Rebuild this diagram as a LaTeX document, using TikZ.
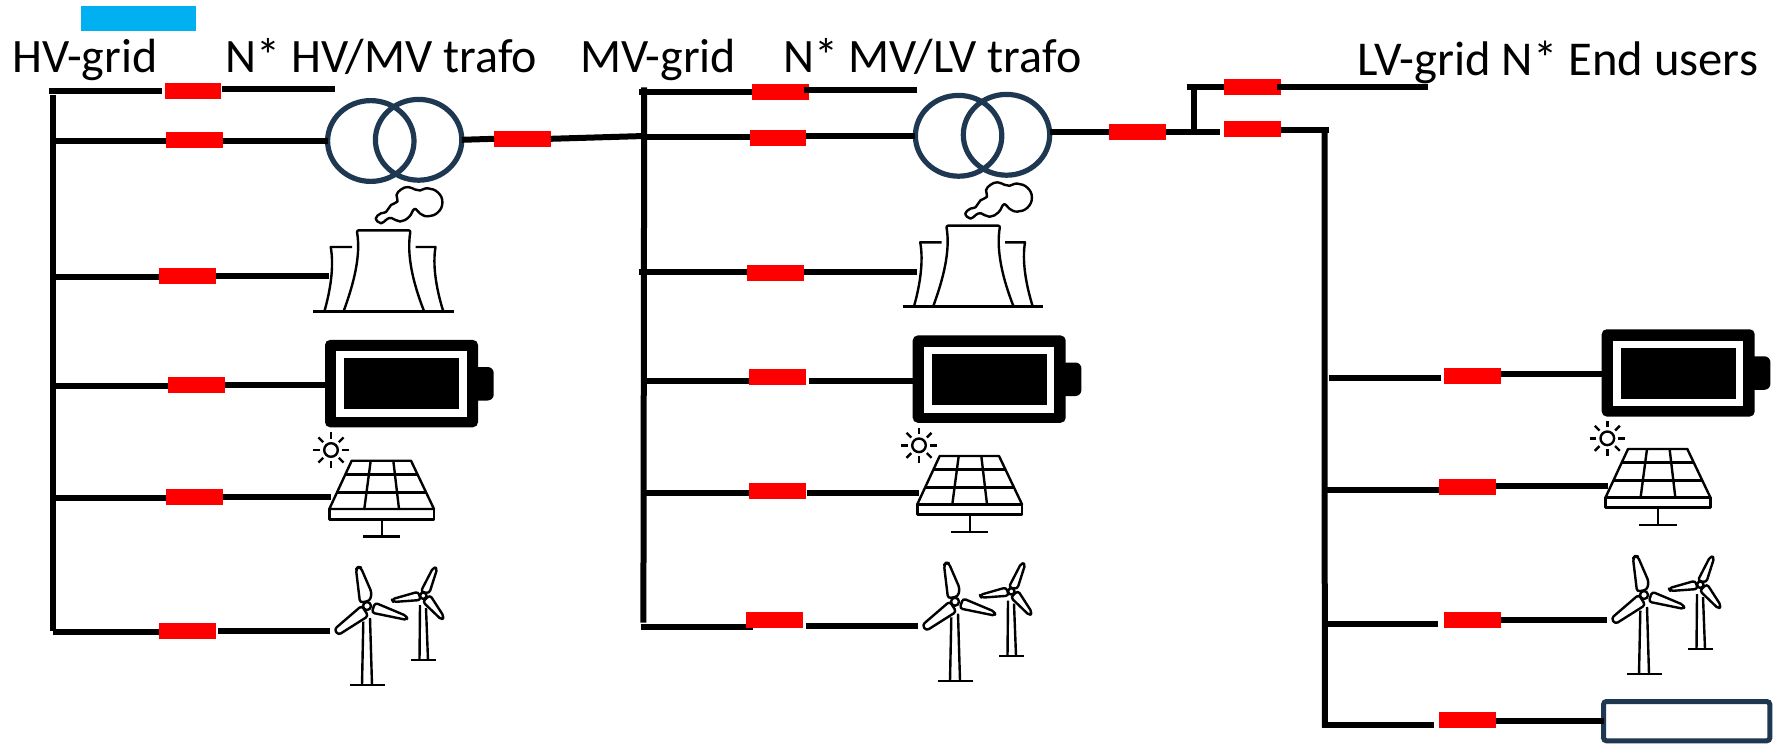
\documentclass[tikz,border=0pt]{standalone}
\usepackage{fontspec}
\setmainfont{Carlito}
\usetikzlibrary{shapes.geometric,backgrounds,calc}
\definecolor{ringblue}{HTML}{1F3852}
\definecolor{skyfill}{HTML}{00B0F0}
\tikzset{
  wire/.style={line width=3pt,line cap=butt,black},
  swbox/.style={fill=red,draw=none,minimum width=28.4pt,minimum height=8pt,inner sep=0pt,outer sep=0pt},
  ringnode/.style={draw=ringblue,line width=2.6pt,ellipse,minimum width=43.2pt,minimum height=40.4pt,inner sep=0pt,outer sep=0pt},
  label/.style={anchor=base west,inner sep=0pt,outer sep=0pt,font=\fontsize{24}{29}\selectfont},
  icon/.style={line width=1.2pt,line join=round,black},
  battbody/.style={fill=black,draw=none,rounded corners=2.5pt,minimum width=76.5pt,minimum height=43.65pt,inner sep=0pt,outer sep=0pt},
  evbox/.style={draw=ringblue,line width=2.5pt,rounded corners=1.5pt,minimum width=83.15pt,minimum height=19.65pt,inner sep=0pt,outer sep=0pt},
  cooltower/.pic={
    \draw[icon] (313,311.3) -- (453.9,311.3);
    \draw[icon,rounded corners=1pt] (343.7,311) .. controls (354,283) and (361,255) .. (356.7,230.3) -- (410.6,230.3) .. controls (406.5,255) and (413,283) .. (424,311);
    \draw[icon] (324.5,311) .. controls (331,288) and (334,265) .. (330.7,247) -- (352,247);
    \draw[icon] (415.6,247) -- (435.5,247) .. controls (432.5,265) and (436,288) .. (443.2,311);
    \draw[icon] plot[smooth cycle,tension=0.75] coordinates {(427.9,188.3) (438,192.5) (442.4,202.3) (438,212.3) (428,216.3) (420,213.5) (414.5,209) (409,217) (400,221.5) (391.5,218) (386.5,219.5) (381,223.3) (375.8,218.3) (381,213.3) (386,212) (391,205) (397.5,201.5) (396.5,195) (401,189.5) (408,187) (415,189.5) (420,190.5)};
  },
  battpic/.pic={
    \fill[black,rounded corners=3pt] (470,367) rectangle (493.7,400.5);
    \node[battbody] (body) at (401.5,383.6) {};
    \fill[white] (336.3,351.3) rectangle (466.7,417);
    \fill[black] (344,358.3) rectangle (459.3,409.3);
  },
  solarpic/.pic={
    \draw[icon] (331,450) circle[radius=6.8];
    \foreach \a in {0,45,...,315}{\draw[icon] ($(331,450)$) ++(\a:11) -- ++(\a:6.7);}
    \draw[icon] (351.7,460.7) -- (411,460.7) -- (434,509) -- (329.3,509) -- cycle;
    \draw[icon] (329.3,509) rectangle (434,519.3);
    \draw[icon] (345.4,474.3) -- (417.5,474.3);
    \draw[icon] (337,492.3) -- (426,492.3);
    \draw[icon] (370.7,460.7) -- (364.3,509);
    \draw[icon] (393.3,460.7) -- (399,509);
    \draw[icon] (381.7,519.3) -- (381.7,536.4);
    \draw[icon] (363,536.4) -- (400.3,536.4);
  },
  windpic/.pic={
    \draw[icon] (363.3,621.7) -- (362,685);
    \draw[icon] (370,618) -- (372,685);
    \draw[icon] (350.3,685) -- (384.7,685);
    \draw[icon,rounded corners=1.5pt] (356,569.3) -- (358,567) -- (360.7,567.3) -- (371.7,592.7) -- (370,600.7) -- (360,602.7) -- cycle;
    \draw[icon,rounded corners=1.5pt] (375,602.7) -- (406.7,616) -- (407.3,620) -- (371.7,612.7) -- cycle;
    \draw[icon,rounded corners=1.5pt] (361.7,605.7) -- (334.3,629.3) -- (338.3,635) -- (368.3,616) -- cycle;
    \draw[icon,fill=white] (367,606) circle[radius=4];
    \draw[icon] (420,605) -- (419.5,660);
    \draw[icon] (426,608) -- (428,660);
    \draw[icon] (411,660) -- (435.7,660);
    \draw[icon,rounded corners=1.5pt] (420.7,591.7) -- (433.3,567.3) -- (437.3,568.3) -- (429.3,593.3) -- cycle;
    \draw[icon,rounded corners=1.5pt] (391.7,599.3) -- (418.3,591.7) -- (420.7,600) -- (393.3,602) -- cycle;
    \draw[icon,rounded corners=1.5pt] (430,595) -- (444,616.7) -- (441.7,620) -- (422.7,601.7) -- cycle;
    \draw[icon,fill=white] (423.3,595.7) circle[radius=3.2];
  }
}
% name, box centre, left free end, left gap, right end, right gap (all in px)
\newcommand{\branch}[6]{%
  \node[swbox] (#1) at (#2) {};
  \coordinate (#1L) at (#3);
  \coordinate (#1R) at (#5);
  \begin{scope}[on background layer]
    \draw[wire] (#1L) -- ([xshift=(#4)*0.5pt]#1.west |- #1L);
  \end{scope}
  \draw[wire] ([xshift=(#6)*0.5pt]#1.east |- #1R) -- (#1R);
}
\begin{document}
\begin{tikzpicture}[x=0.5pt,y=-0.5pt]
\useasboundingbox (0,0) rectangle (1781,744);
\begin{scope}[on background layer]
  \fill[white] (0,0) rectangle (1781,744);
\end{scope}

% header
\node[fill=skyfill,draw=none,minimum width=57.45pt,minimum height=12.5pt,inner sep=0pt,outer sep=0pt] (legend) at (138.55,18.5) {};
\node[label] (thv) at (12.5,72.7) {HV-grid};
\node[label] (thvt) at (225.5,72.7) {N* HV/MV trafo};
\node[label] (tmv) at (580,72.7) {MV-grid};
\node[label] (tmvt) at (783,72.7) {N* MV/LV trafo};
\node[label,font=\fontsize{24.3}{29}\selectfont] (tlv) at (1357.5,75) {LV-grid N* End users};

% transformers
\node[ringnode] (tL) at (370.8,141) {};
\node[ringnode] (tR) at (418.6,139.8) {};
\node[ringnode] (mL) at (958.6,135.8) {};
\node[ringnode] (mR) at (1006.5,134.8) {};

% icons
\pic at (0,0) {cooltower};
\pic at (589.5,-4.7) {cooltower};
\pic (hvb) at (0,0) {battpic};
\pic (mvb) at (587.7,-4.5) {battpic};
\pic (lvb) at (1276.7,-10.7) {battpic};
\pic at (0,0) {solarpic};
\pic at (588,-4.7) {solarpic};
\pic at (1276.3,-11.7) {solarpic};
\pic at (0,0) {windpic};
\pic at (588,-4.3) {windpic};
\pic at (1277,-11) {windpic};
\node[evbox] (ev) at (1686.65,721.15) {};

% HV column
\coordinate (hvT) at (52.8,95);
\coordinate (hvB) at (52.8,631);
\draw[wire] (hvT) -- (hvB);
\branch{h0}{192.9,90.7}{49.4,90.7}{-2.7}{334.9,89.3}{0.8}
\branch{h1}{194.4,139.7}{55.5,141.3}{0}{tL.west |- 0,141}{0}
\branch{h2}{187.7,275.8}{55.5,277}{0}{328.6,276.3}{0}
\branch{h3}{196.5,385}{56,385.7}{0}{hvbbody.west |- 0,385.3}{0}
\branch{h4}{194.2,496.7}{55,498}{0}{331,497.3}{0}
\branch{h5}{187.2,630.7}{53,631.7}{0}{330,631}{2}

% HV to MV link
\node[swbox] (hs) at (522.4,138.8) {};
\coordinate (mvJ) at (644.4,136);
\draw[wire] (tR.east) -- (hs.west);
\draw[wire] (hs.east) -- (mvJ);

% MV column
\coordinate (mvT) at (644.2,87.3);
\coordinate (mvB) at (643.4,622.7);
\draw[wire] (mvT) -- (mvB);
\branch{m0}{780.1,91.7}{639,91.7}{0}{916.5,90.3}{-4.2}
\branch{m1}{778,138.3}{644,136.7}{0}{mL.west |- 0,136.3}{0}
\branch{m2}{775.5,273.2}{639.4,272}{0}{916.5,271.7}{0}
\branch{m3}{777.2,376.7}{644,381}{0}{mvbbody.west |- 0,380.7}{3}
\branch{m4}{777.8,491}{644,493.3}{0}{919.3,492.7}{0.7}
\branch{m5}{774.2,619.7}{640.7,626.7}{7}{918,626.3}{3}

% MV to LV link
\node[swbox] (ms) at (1137.2,131.7) {};
\coordinate (lvJ) at (1220,131.7);
\coordinate (stubB) at (1194.3,131);
\coordinate (stubT) at (1194.3,85);
\draw[wire] (mR.east |- ms.west) -- (ms.west);
\draw[wire] (ms.east) -- (lvJ);
\draw[wire] (stubB) -- (stubT);

% LV feeders
\branch{l0}{1252.5,87}{1186.7,87.3}{0}{1428.3,87}{-4}
\node[swbox] (l1) at (1252.2,129) {};
\coordinate (lvC) at (1328.7,130);
\coordinate (lvT) at (1324.5,127);
\coordinate (lvB) at (1324.8,727);
\draw[wire] (l1.east |- lvC) -- (lvC);
\draw[wire] (lvT) -- (lvB);
\branch{r0}{1472.2,375.7}{1329,378.3}{-2.7}{lvbbody.west |- 0,374}{0}
\branch{r1}{1467.8,487.3}{1325,490.3}{0}{1608.3,486.3}{0}
\branch{r2}{1472.2,619.7}{1325,623.7}{-6}{1606.7,620}{0}
\branch{r3}{1467.7,720.3}{1322,725}{-5}{ev.west |- 0,721}{0}
\end{tikzpicture}
\end{document}
